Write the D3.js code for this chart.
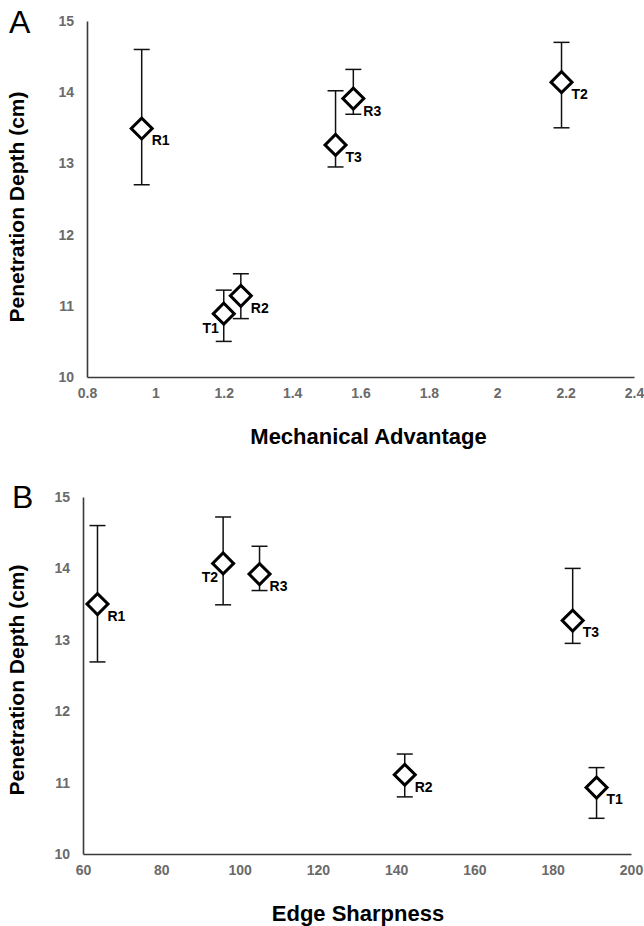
<!DOCTYPE html>
<html>
<head>
<meta charset="utf-8">
<script src="https://cdn.jsdelivr.net/npm/d3@7"></script>
<style>
  html, body { margin: 0; padding: 0; background: #fff; }
  svg { display: block; font-family: Arial, "Liberation Sans", sans-serif; }
</style>
</head>
<body>
<svg id="chart" width="644" height="926"></svg>
<script>
// ---- Data ----
const labels = ["R1", "T1", "R2", "T3", "R3", "T2"];
// Panel A: Mechanical Advantage
const mechAdvantage = [0.96, 1.20, 1.25, 1.527, 1.579, 2.188];
// Panel B: Edge Sharpness
const edgeSharpness = [63.7, 191.2, 142.2, 185.1, 105.1, 95.8];
// Penetration depth (cm), panel A readings
const depthA = [13.49, 10.89, 11.14, 13.26, 13.91, 14.14];
const depthAHi = [14.60, 11.22, 11.45, 14.02, 14.32, 14.70];
const depthALo = [12.70, 10.50, 10.82, 12.95, 13.69, 13.50];
// Penetration depth (cm), panel B readings
const depthB = [13.50, 10.93, 11.11, 13.27, 13.92, 14.07];
const depthBHi = [14.60, 11.21, 11.40, 14.00, 14.31, 14.72];
const depthBLo = [12.69, 10.50, 10.80, 12.95, 13.69, 13.49];
// Ticks
const yTicks = [10, 11, 12, 13, 14, 15];
const xTicksA = [0.8, 1, 1.2, 1.4, 1.6, 1.8, 2, 2.2, 2.4];
const xTicksB = [60, 80, 100, 120, 140, 160, 180, 200];
// Labels placed left of marker
const leftLabelsA = ["T1"];
const leftLabelsB = ["T2"];

const svg = d3.select("#chart");

function panel(opts) {
  const g = svg.append("g");
  const x = d3.scaleLinear().domain(opts.xDomain).range(opts.xRange);
  const y = d3.scaleLinear().domain([10, 15]).range(opts.yRange);

  // axes (lines only, no tick marks)
  const xAxis = d3.axisBottom(x).tickValues(opts.xTicks).tickSize(0).tickPadding(11)
    .tickFormat(d => String(d));
  const yAxis = d3.axisLeft(y).tickValues(yTicks).tickSize(0).tickPadding(13)
    .tickFormat(d => String(d));

  const gx = g.append("g").attr("transform", `translate(0,${opts.yRange[0]})`).call(xAxis);
  const gy = g.append("g").attr("transform", `translate(${opts.xRange[0]},0)`).call(yAxis);
  [gx, gy].forEach(a => {
    a.select(".domain").attr("stroke", "#3a3a3a").attr("stroke-width", 1.6);
    a.selectAll("text").attr("fill", "#6a6a6a").attr("font-size", 14)
      .attr("font-weight", "bold").attr("font-family", "Arial, 'Liberation Sans', sans-serif");
  });

  const data = labels.map((l, i) => ({
    label: l, x: opts.xs[i], y: opts.ys[i], hi: opts.hi[i], lo: opts.lo[i]
  }));

  // error bars
  const eb = g.append("g").attr("stroke", "#111").attr("stroke-width", 1.5);
  data.forEach(d => {
    const cx = x(d.x);
    eb.append("line").attr("x1", cx).attr("x2", cx).attr("y1", y(d.hi)).attr("y2", y(d.lo));
    eb.append("line").attr("x1", cx - 8).attr("x2", cx + 8).attr("y1", y(d.hi)).attr("y2", y(d.hi));
    eb.append("line").attr("x1", cx - 8).attr("x2", cx + 8).attr("y1", y(d.lo)).attr("y2", y(d.lo));
  });

  // diamonds
  const sym = d3.symbol().type(d3.symbolSquare).size(220);
  g.append("g").selectAll("path").data(data).join("path")
    .attr("d", sym)
    .attr("transform", d => `translate(${x(d.x)},${y(d.y)}) rotate(45)`)
    .attr("fill", "#fff").attr("stroke", "#000").attr("stroke-width", 3);

  // point labels
  g.append("g").selectAll("text").data(data).join("text")
    .attr("x", d => opts.leftLabels.includes(d.label) ? x(d.x) - 5 : x(d.x) + 10)
    .attr("y", d => y(d.y) + (opts.leftLabels.includes(d.label) ? 14 : 12))
    .attr("dy", "0.35em")
    .attr("text-anchor", d => opts.leftLabels.includes(d.label) ? "end" : "start")
    .attr("font-size", 14).attr("font-weight", "bold").attr("fill", "#000")
    .text(d => d.label);

  // axis titles
  g.append("text")
    .attr("x", (opts.xRange[0] + opts.xRange[1]) / 2 + opts.xTitleShift)
    .attr("y", opts.yRange[0] + 67)
    .attr("text-anchor", "middle").attr("font-size", 22).attr("font-weight", "bold")
    .attr("fill", "#000").text(opts.xTitle);
  g.append("text")
    .attr("transform", `translate(${opts.yTitleX},${opts.yTitleY}) rotate(-90)`)
    .attr("text-anchor", "middle").attr("font-size", 21).attr("font-weight", "bold")
    .attr("fill", "#000").text("Penetration Depth (cm)");

  // panel letter
  g.append("text").attr("x", opts.letterX).attr("y", opts.letterY)
    .attr("font-size", 32).attr("fill", "#000").text(opts.letter);
}

panel({
  letter: "A", letterX: 9, letterY: 33,
  xDomain: [0.8, 2.4], xRange: [87, 634], yRange: [377, 21],
  xTicks: xTicksA, xs: mechAdvantage, ys: depthA, hi: depthAHi, lo: depthALo,
  leftLabels: leftLabelsA, xTitle: "Mechanical Advantage", xTitleShift: 8,
  yTitleX: 24, yTitleY: 207
});
panel({
  letter: "B", letterX: 12, letterY: 508,
  xDomain: [60, 200], xRange: [83, 631], yRange: [854, 497],
  xTicks: xTicksB, xs: edgeSharpness, ys: depthB, hi: depthBHi, lo: depthBLo,
  leftLabels: leftLabelsB, xTitle: "Edge Sharpness", xTitleShift: 1,
  yTitleX: 24, yTitleY: 680
});
</script>
</body>
</html>
